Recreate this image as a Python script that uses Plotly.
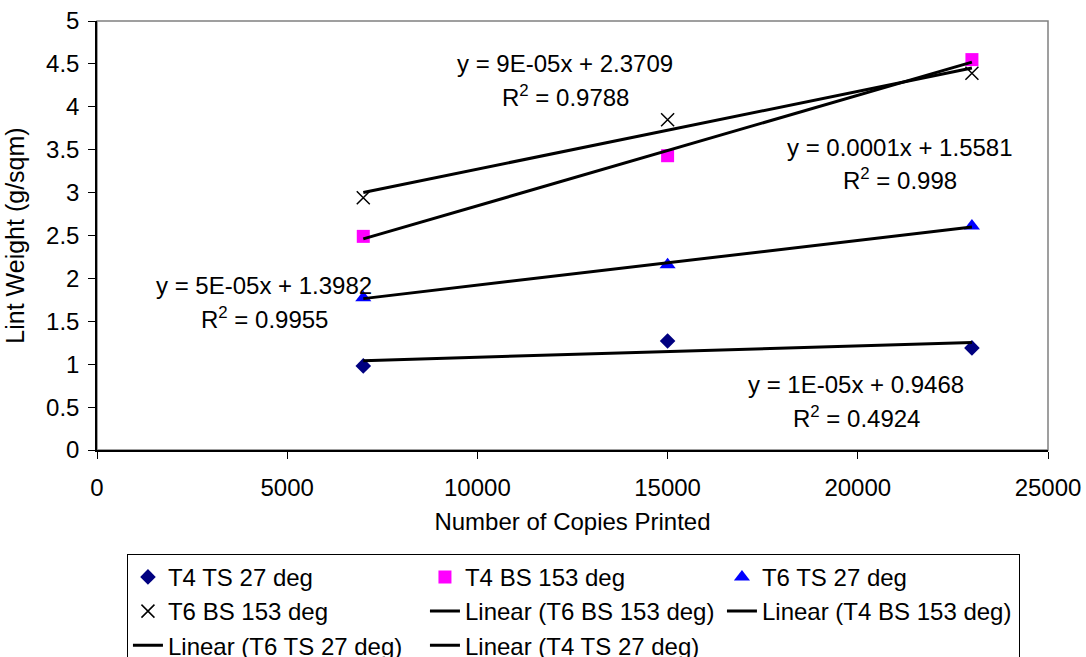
import numpy as np
import plotly.graph_objects as go

copies = [7000, 15000, 23000]
t4_ts = [0.98, 1.27, 1.19]
t4_bs = [2.49, 3.43, 4.55]
t6_ts = [1.775, 2.16, 2.61]
t6_bs = [2.94, 3.85, 4.39]

x_ticks = [0, 5000, 10000, 15000, 20000, 25000]
y_ticks = [0, 0.5, 1, 1.5, 2, 2.5, 3, 3.5, 4, 4.5, 5]

FONT = "Liberation Sans, Arial, sans-serif"
FS = 24

fig = go.Figure()

series = [
    ("T4 TS 27 deg", t4_ts, dict(symbol="diamond", color="#000080", size=12)),
    ("T4 BS 153 deg", t4_bs, dict(symbol="square", color="#FF00FF", size=13)),
    ("T6 TS 27 deg", t6_ts, dict(symbol="triangle-up", color="#0000FF", size=14)),
    ("T6 BS 153 deg", t6_bs, dict(symbol="x-thin-open", color="black", size=13,
                                  line=dict(color="black", width=1.5))),
]
for name, ys, mk in series:
    fig.add_trace(go.Scatter(x=copies, y=ys, mode="markers", name=name, marker=mk))

trend_order = [("T6 BS 153 deg", t6_bs), ("T4 BS 153 deg", t4_bs),
               ("T6 TS 27 deg", t6_ts), ("T4 TS 27 deg", t4_ts)]
for name, ys in trend_order:
    slope, intercept = np.polyfit(copies, ys, 1)
    xs = [min(copies), max(copies)]
    fig.add_trace(go.Scatter(x=xs, y=[slope * v + intercept for v in xs], mode="lines",
                             name=f"Linear ({name})", line=dict(color="black", width=3)))

eqs = [
    ("y = 9E-05x + 2.3709", "R<sup>2</sup> = 0.9788", 12303, 4.51, 4.126),
    ("y = 0.0001x + 1.5581", "R<sup>2</sup> = 0.998", 21109, 3.531, 3.158),
    ("y = 5E-05x + 1.3982", "R<sup>2</sup> = 0.9955", 4390, 1.923, 1.538),
    ("y = 1E-05x + 0.9468", "R<sup>2</sup> = 0.4924", 19953, 0.758, 0.385),
]
for eq, r2, ax, ay1, ay2 in eqs:
    fig.add_annotation(x=ax, y=ay1, text=eq, showarrow=False, xref="x", yref="y",
                       font=dict(size=FS, color="black", family=FONT))
    fig.add_annotation(x=ax, y=ay2, text=r2, showarrow=False, xref="x", yref="y",
                       font=dict(size=FS, color="black", family=FONT))

fig.add_shape(type="rect", xref="paper", yref="paper", x0=0, x1=1, y0=0, y1=1,
              line=dict(color="#808080", width=1.5), layer="below")

fig.update_layout(
    width=1086, height=657,
    margin=dict(l=97, r=38, t=21, b=207, autoexpand=False),
    paper_bgcolor="white", plot_bgcolor="white",
    font=dict(family=FONT, size=FS, color="black"),
    showlegend=True,
    legend=dict(orientation="h", x=0.0315, y=-0.242, xanchor="left", yanchor="top",
                bordercolor="black", borderwidth=1, bgcolor="white",
                entrywidth=252, entrywidthmode="pixels",
                font=dict(size=FS, family=FONT, color="black")),
    xaxis=dict(range=[0, 25000], tickvals=x_ticks, ticktext=[str(v) for v in x_ticks],
               showgrid=False, zeroline=False, showline=True, linecolor="black", linewidth=1.5,
               ticks="outside", ticklen=7, tickcolor="black", ticklabelstandoff=8,
               ticklabeloverflow="allow", tickfont=dict(size=FS),
               title=dict(text="Number of Copies Printed", standoff=14,
                          font=dict(size=FS, family=FONT, color="black"))),
    yaxis=dict(range=[0, 5], tickvals=y_ticks, ticktext=[f"{v:g}" for v in y_ticks],
               showgrid=False, zeroline=False, showline=True, linecolor="black", linewidth=1.5,
               ticks="outside", ticklen=7, tickcolor="black", ticklabelstandoff=4,
               ticklabeloverflow="allow", tickfont=dict(size=FS),
               title=dict(text="Lint Weight (g/sqm)", standoff=14,
                          font=dict(size=25, family=FONT, color="black"))),
)

fig.write_html("out.html", config={"displayModeBar": False},
               post_script="document.body.style.margin='0';document.body.style.overflow='hidden';")
